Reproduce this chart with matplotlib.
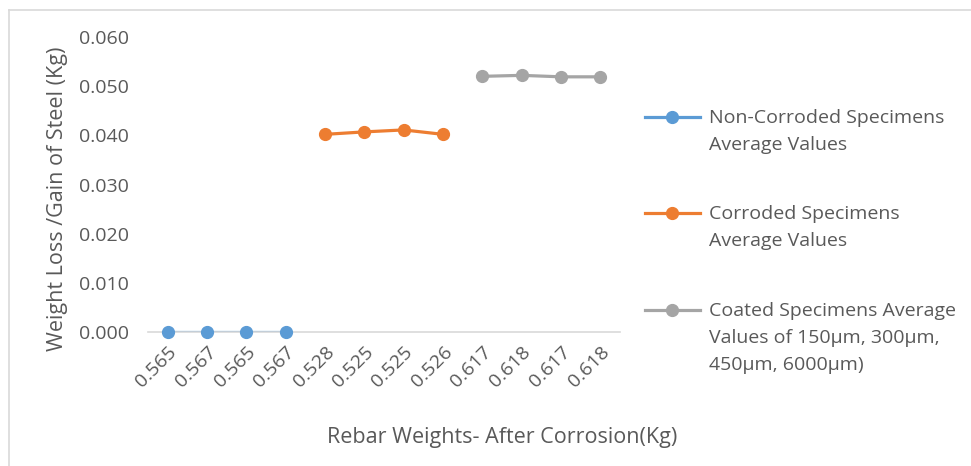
from matplotlib import pyplot as plt
from matplotlib.lines import Line2D

# ===== data =====
categories = ['0.565', '0.567', '0.565', '0.567', '0.528', '0.525',
              '0.525', '0.526', '0.617', '0.618', '0.617', '0.618']
non_corroded = [0.000, 0.000, 0.000, 0.000]
corroded = [0.0402, 0.0407, 0.0411, 0.0402]
coated = [0.0520, 0.0522, 0.0519, 0.0519]

labels = ['Non-Corroded Specimens\nAverage Values',
          'Corroded Specimens\nAverage Values',
          'Coated Specimens Average\nValues of 150\u00b5m, 300\u00b5m,\n450\u00b5m, 6000\u00b5m)']
colors = ['#5b9bd5', '#ed7d31', '#a5a5a5']
text_color = '#595959'

plt.rcParams['font.family'] = ['Open Sans', 'DejaVu Sans']

W, H = 971, 466
fig = plt.figure(figsize=(W / 100, H / 100), dpi=100)
ax = fig.add_axes([148 / W, 1 - 332 / H, (620 - 148) / W, (332 - 37) / H])

x = list(range(len(categories)))
series = [(x[0:4], non_corroded), (x[4:8], corroded), (x[8:12], coated)]
for (xs, ys), c in zip(series, colors):
    # line under the axis line, markers on top (like excel)
    ax.plot(xs, ys, color=c, lw=2.3, zorder=1.5, solid_capstyle='round')
    ax.plot(xs, ys, color=c, lw=0, marker='o', ms=8.5, zorder=3, clip_on=False)

ax.set_xlim(-0.5, len(categories) - 0.5)
ax.set_ylim(0, 0.060)
ax.set_yticks([0.0, 0.01, 0.02, 0.03, 0.04, 0.05, 0.06])
ax.set_yticklabels([f'{v:.3f}' for v in ax.get_yticks()])
ax.set_xticks(x)
ax.set_xticklabels(categories, rotation=45, ha='right', rotation_mode='anchor')

for s in ['top', 'right', 'left']:
    ax.spines[s].set_visible(False)
ax.spines['bottom'].set_color('#d9d9d9')
ax.spines['bottom'].set_linewidth(1.2)
ax.spines['bottom'].set_zorder(2)
ax.tick_params(axis='both', length=0, labelsize=14, colors=text_color)
ax.tick_params(axis='y', pad=14)
ax.tick_params(axis='x', pad=8)

ax.set_xlabel('Rebar Weights- After Corrosion(Kg)', fontsize=15.5, color=text_color,
              va='center', ha='center')
ax.xaxis.set_label_coords((502 - 148) / 472, (332 - 438) / 295)
ax.set_ylabel('Weight Loss /Gain of Steel (Kg)', fontsize=15.5, color=text_color,
              va='center', ha='center')
ax.yaxis.set_label_coords((58 - 148) / 472, (332 - 199) / 295)

# legend drawn by hand: handle aligned with the first text line
legend_y = [117, 213, 310]
for c, lab, yy in zip(colors, labels, legend_y):
    yf = 1 - yy / H
    fig.add_artist(Line2D([645 / W, 700 / W], [yf, yf], color=c, lw=2.3))
    fig.add_artist(Line2D([672 / W], [yf], color=c, marker='o', ms=8.5, lw=0))
    fig.text(709 / W, 1 - (yy - 8) / H, lab, fontsize=14, color=text_color,
             va='top', ha='left', linespacing=1.65)

# chart frame on left and top
fig.add_artist(Line2D([9 / W, 9 / W], [0, 1 - 10 / H], color='#d9d9d9', lw=1.2))
fig.add_artist(Line2D([9 / W, 1], [1 - 10 / H, 1 - 10 / H], color='#d9d9d9', lw=1.2))

fig.savefig('out.png', dpi=100)
